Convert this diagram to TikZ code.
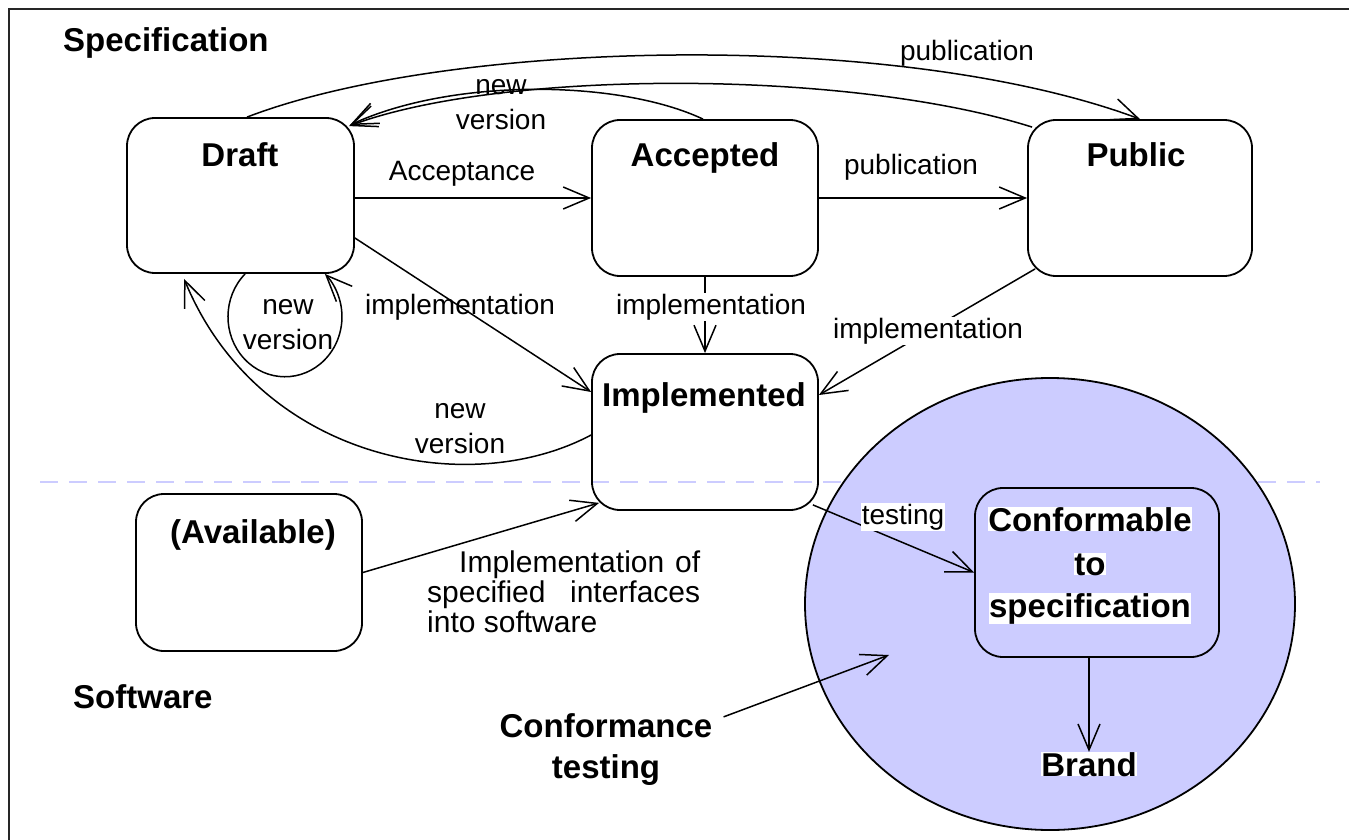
\documentclass[tikz,border=0pt]{standalone}
\usepackage{fontspec}
\setmainfont{Liberation Sans}
\usetikzlibrary{arrows.meta,shapes.geometric}
\definecolor{lav}{HTML}{CCCCFF}
\begin{document}
\begin{tikzpicture}[x=1pt,y=-1pt,
  stbox/.style={draw, line width=1.8pt, rounded corners=28pt, inner sep=0pt},
  big/.style={font=\bfseries\fontsize{33}{41}\selectfont, inner sep=0pt},
  lbl/.style={font=\fontsize{28}{35}\selectfont, inner sep=0pt},
  arr/.style={line width=1.5pt, -{Straight Barb[length=26pt,width=22pt,line width=1.5pt]}},
  wbg/.style={fill=white, inner sep=1pt}
]
\useasboundingbox (0,0) rectangle (1349,840);
% frame
\draw[line width=2pt, black!85] (9,840) -- (9,9) -- (1349,9);
% separator
\coordinate (sepL) at (40,482);
\coordinate (sepR) at (1320,482);
\draw[lav, line width=2pt, dash pattern=on 18pt off 11pt] (sepL) -- (sepR);
% conformance ellipse
\node[ellipse, draw, line width=1.8pt, fill=lav, minimum width=490pt, minimum height=452pt, inner sep=0pt] (ell) at (1050,604) {};
% state boxes
\node[stbox, minimum width=227pt, minimum height=155pt] (draft) at (240.5,195.5) {};
\node[stbox, minimum width=226pt, minimum height=156pt] (accepted) at (705,198) {};
\node[stbox, minimum width=224pt, minimum height=156pt] (public) at (1140,198) {};
\node[stbox, minimum width=226pt, minimum height=156pt] (implemented) at (705,432) {};
\node[stbox, minimum width=226pt, minimum height=157pt] (available) at (249,572.5) {};
\node[stbox, minimum width=244pt, minimum height=169pt] (conformable) at (1097,572.5) {};
% titles
\node[big, anchor=base west] (specT) at (63,52) {Specification};
\node[big, anchor=base west] (softT) at (73,708) {Software};
\node[big, anchor=base] (draftT) at (240,166) {Draft};
\node[big, anchor=base] (acceptedT) at (705,167) {Accepted};
\node[big, anchor=base] (publicT) at (1136,167) {Public};
\node[big, anchor=base] (implementedT) at (704,406) {Implemented};
\node[big, anchor=base] (availableT) at (253,543) {(Available)};
\node[big, wbg, inner sep=0pt, anchor=base] (cf1) at (1090,531) {Conformable};
\node[big, wbg, inner sep=0pt, anchor=base] (cf2) at (1090,575) {to};
\node[big, wbg, inner sep=0pt, anchor=base] (cf3) at (1090,617) {specification};
\node[big, wbg, inner sep=0pt, anchor=base] (brand) at (1089,776) {Brand};
\node[big, align=center, anchor=base] (ct) at (606,778) {Conformance\\testing};
% connectors
\draw[arr] (draft.east |- accepted.west) -- (accepted.west);
\node[lbl, anchor=base] (lAcc) at (462,180) {Acceptance};
\draw[arr] (accepted.east) -- (public.west);
\node[lbl, anchor=base] (lPub1) at (911,175) {publication};
\draw[arr] ([xshift=6.5pt]draft.north) .. controls +(203,-78) and +(-242,-90) .. (public.north);
\node[lbl, anchor=base] (lPub2) at (967,61) {publication};
\draw[arr] ([xshift=5pt,yshift=-8pt]public.north west) .. controls +(-183,-58) and +(152,-57) .. ([xshift=-6pt,yshift=-9pt]draft.north east);
\draw[arr] ([xshift=-2pt]accepted.north) .. controls +(-85,-40) and +(101,-47) .. ([xshift=-5pt,yshift=-8pt]draft.north east);
\node[lbl, align=center, anchor=base] (lNv1) at (501,130) {new\\version};
\draw[arr] ([xshift=119pt]draft.south west) arc[start angle=134.4, end angle=405.6, x radius=57pt, y radius=60pt];
\node[lbl, align=center, anchor=base] (lNv2) at (288,349) {new\\version};
\draw[arr] ([yshift=-42.5pt]draft.east) -- ([yshift=40pt]implemented.west);
\node[lbl, anchor=base] (lImp1) at (460,314) {implementation};
\draw[arr] (accepted.south) -- (implemented.north);
\node[lbl, wbg, anchor=base] (lImp2) at (711,314) {implementation};
\draw[arr] ([xshift=8pt,yshift=8pt]public.south west) -- ([yshift=37pt]implemented.east);
\node[lbl, wbg, anchor=base] (lImp3) at (928,338) {implementation};
\draw[arr] ([yshift=-3pt]implemented.west) .. controls +(-122,65) and +(75,182) .. ([xshift=58pt,yshift=-5pt]draft.south west);
\node[lbl, align=center, anchor=base] (lNv3) at (460,453) {new\\version};
\draw[arr] (available.east) -- ([xshift=8pt,yshift=8pt]implemented.south west);
\node[lbl, font=\fontsize{30}{30}\selectfont, align=left, anchor=base west] (lSw) at (427,632)
  {\hspace*{32pt}\makebox[241pt][s]{Implementation of}\\\makebox[273pt][s]{specified interfaces}\\into software};
\draw[arr] ([xshift=-6pt,yshift=6pt]implemented.south east) -- (conformable.west);
\node[lbl, wbg, anchor=base] (lTest) at (903,524) {testing};
\draw[arr] (brand.north |- conformable.south) -- (brand.north);
\coordinate (ctEnd) at (889,655);
\draw[arr] ([xshift=11pt,yshift=-4pt]ct.north east) -- (ctEnd);
\end{tikzpicture}
\end{document}
